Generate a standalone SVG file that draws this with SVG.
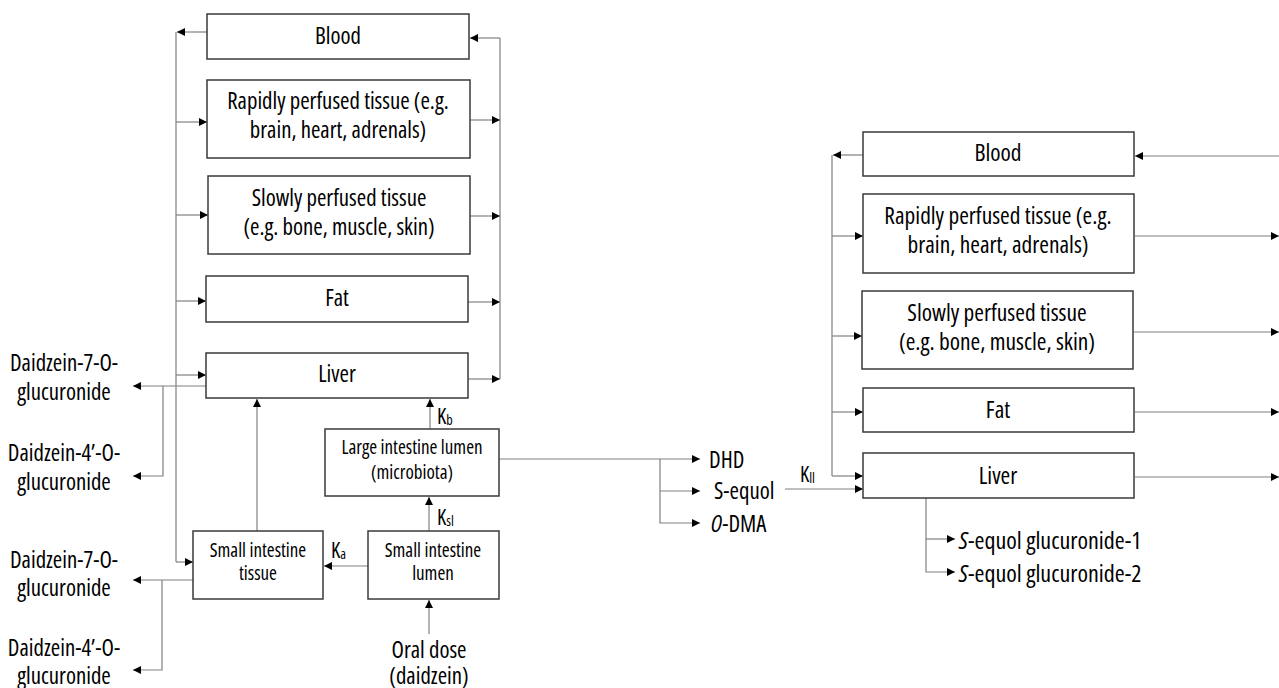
<svg xmlns="http://www.w3.org/2000/svg" width="1279" height="688" viewBox="0 0 1279 688">
<defs>
<marker id="ah" markerUnits="userSpaceOnUse" markerWidth="9" markerHeight="8" refX="8" refY="4" orient="auto">
<path d="M0,0 L8,4 L0,8 z" fill="#000"/>
</marker>
<style>
.box{fill:#fff;stroke:#3a3a3a;stroke-width:1.5}
.t{font-family:"Open Sans","Noto Sans",sans-serif;font-stretch:75%;font-size:22.8px;fill:#000;text-anchor:middle;dominant-baseline:central}
.r{font-size:23.4px}
.g{font-size:24px}
.s{font-family:"Open Sans","Noto Sans",sans-serif;font-stretch:75%;font-size:19px;fill:#000;text-anchor:middle;dominant-baseline:central}
.l{text-anchor:start}
.k{font-family:"Open Sans","Noto Sans",sans-serif;font-stretch:75%;font-size:21px;fill:#000;text-anchor:start;dominant-baseline:central}
.sub{font-size:14px}
.c line,.c polyline{stroke:#808080;stroke-width:1.2;fill:none}
.a{marker-end:url(#ah)}
</style>
</defs>
<rect width="1279" height="688" fill="#fff"/>

<g class="c" id="connectors">
<!-- left panel -->
<line x1="176" y1="32" x2="176" y2="562"/>
<line class="a" x1="207" y1="32" x2="177" y2="32"/>
<line class="a" x1="176" y1="122" x2="207" y2="122"/>
<line class="a" x1="176" y1="215" x2="208" y2="215"/>
<line class="a" x1="176" y1="301" x2="206" y2="301"/>
<line class="a" x1="176" y1="375" x2="206" y2="375"/>
<line class="a" x1="176" y1="562" x2="193" y2="562"/>
<line x1="500" y1="38" x2="500" y2="379"/>
<line class="a" x1="500" y1="38" x2="470" y2="38"/>
<line class="a" x1="470" y1="120" x2="500" y2="120"/>
<line class="a" x1="470" y1="216" x2="500" y2="216"/>
<line class="a" x1="468" y1="302" x2="500" y2="302"/>
<line class="a" x1="468" y1="379" x2="500" y2="379"/>
<line class="a" x1="206" y1="386" x2="133" y2="386"/>
<polyline class="a" points="163,386 163,476 133,476"/>
<line class="a" x1="257" y1="531" x2="257" y2="399"/>
<line class="a" x1="193" y1="580" x2="133" y2="580"/>
<polyline class="a" points="162,580 162,670 133,670"/>
<line class="a" x1="368" y1="566" x2="324" y2="566"/>
<line class="a" x1="429" y1="531" x2="429" y2="497"/>
<line class="a" x1="430" y1="429" x2="430" y2="399"/>
<line class="a" x1="429" y1="634" x2="429" y2="600"/>
<line class="a" x1="499" y1="459" x2="700" y2="459"/>
<line class="a" x1="660" y1="491" x2="700" y2="491"/>
<polyline class="a" points="660,459 660,523 700,523"/>
<line class="a" x1="785" y1="489" x2="863" y2="489"/>
<!-- right panel -->
<line x1="832" y1="155" x2="832" y2="476"/>
<line class="a" x1="863" y1="155" x2="833" y2="155"/>
<line class="a" x1="832" y1="236" x2="863" y2="236"/>
<line class="a" x1="832" y1="336" x2="862" y2="336"/>
<line class="a" x1="832" y1="412" x2="863" y2="412"/>
<line class="a" x1="832" y1="476" x2="863" y2="476"/>
<line class="a" x1="1285" y1="156" x2="1135" y2="156"/>
<line class="a" x1="1135" y1="236" x2="1279" y2="236"/>
<line class="a" x1="1134" y1="332" x2="1279" y2="332"/>
<line class="a" x1="1135" y1="412" x2="1279" y2="412"/>
<line class="a" x1="1135" y1="477" x2="1279" y2="477"/>
<polyline class="a" points="926,498 926,572 955,572"/>
<line class="a" x1="926" y1="539" x2="955" y2="539"/>
</g>

<g id="l-blood"><rect class="box" x="207" y="14" width="262" height="45"/><text class="t" x="338" y="35">Blood</text></g>
<g id="l-rapid"><rect class="box" x="207" y="80" width="263" height="78"/><text class="t" x="338" y="100">Rapidly perfused tissue (e.g.</text><text class="t" x="338" y="129">brain, heart, adrenals)</text></g>
<g id="l-slow"><rect class="box" x="208" y="176" width="262" height="78"/><text class="t" x="339" y="197">Slowly perfused tissue</text><text class="t" x="339" y="226">(e.g. bone, muscle, skin)</text></g>
<g id="l-fat"><rect class="box" x="206" y="276" width="262" height="46"/><text class="t" x="337" y="297">Fat</text></g>
<g id="l-liver"><rect class="box" x="206" y="353" width="262" height="45"/><text class="t" x="337" y="373">Liver</text></g>
<g id="l-sit"><rect class="box" x="193" y="531" width="130" height="68"/><text class="s" x="258" y="550">Small intestine</text><text class="s" x="258" y="573">tissue</text></g>
<g id="l-sil"><rect class="box" x="368" y="531" width="131" height="68"/><text class="s" x="433" y="550">Small intestine</text><text class="s" x="433" y="573">lumen</text></g>
<g id="l-lil"><rect class="box" x="325" y="429" width="174" height="67"/><text class="s" x="412" y="447">Large intestine lumen</text><text class="s" x="412" y="472">(microbiota)</text></g>
<g id="l-oral"><text class="t" x="429" y="649">Oral dose</text><text class="t" x="429" y="675">(daidzein)</text></g>
<g id="l-d7a"><text class="t" x="64" y="362">Daidzein-7-O-</text><text class="t" x="64" y="391">glucuronide</text></g>
<g id="l-d4a"><text class="t" x="64" y="452">Daidzein-4’-O-</text><text class="t" x="64" y="481">glucuronide</text></g>
<g id="l-d7b"><text class="t" x="64" y="559">Daidzein-7-O-</text><text class="t" x="64" y="587">glucuronide</text></g>
<g id="l-d4b"><text class="t" x="64" y="647">Daidzein-4’-O-</text><text class="t" x="64" y="675">glucuronide</text></g>
<g id="dhd"><text class="t l" x="709" y="459">DHD</text></g>
<g id="sequol"><text class="t l" x="714" y="490">S-equol</text></g>
<g id="odma"><text class="t l" x="711" y="523"><tspan font-style="italic">O</tspan>-DMA</text></g>
<g id="k-labels">
<text class="k" x="437" y="416">K<tspan class="sub" dy="3">b</tspan></text>
<text class="k" x="437" y="517">K<tspan class="sub" dy="3">sl</tspan></text>
<text class="k" x="331" y="550">K<tspan class="sub" dy="3">a</tspan></text>
<text class="k" x="800" y="474">K<tspan class="sub" dy="3">ll</tspan></text>
</g>

<g id="r-blood"><rect class="box" x="863" y="132" width="271" height="44"/><text class="t r" x="998" y="152">Blood</text></g>
<g id="r-rapid"><rect class="box" x="863" y="194" width="271" height="79"/><text class="t r" x="998" y="215">Rapidly perfused tissue (e.g.</text><text class="t r" x="998" y="244">brain, heart, adrenals)</text></g>
<g id="r-slow"><rect class="box" x="862" y="291" width="271" height="78"/><text class="t r" x="997" y="312">Slowly perfused tissue</text><text class="t r" x="997" y="341">(e.g. bone, muscle, skin)</text></g>
<g id="r-fat"><rect class="box" x="863" y="388" width="271" height="44"/><text class="t r" x="998" y="409">Fat</text></g>
<g id="r-liver"><rect class="box" x="863" y="453" width="271" height="45"/><text class="t r" x="998" y="475">Liver</text></g>
<g id="r-g1"><text class="t g l" x="959" y="539"><tspan font-style="italic">S</tspan>-equol glucuronide-1</text></g>
<g id="r-g2"><text class="t g l" x="959" y="572"><tspan font-style="italic">S</tspan>-equol glucuronide-2</text></g>
</svg>
